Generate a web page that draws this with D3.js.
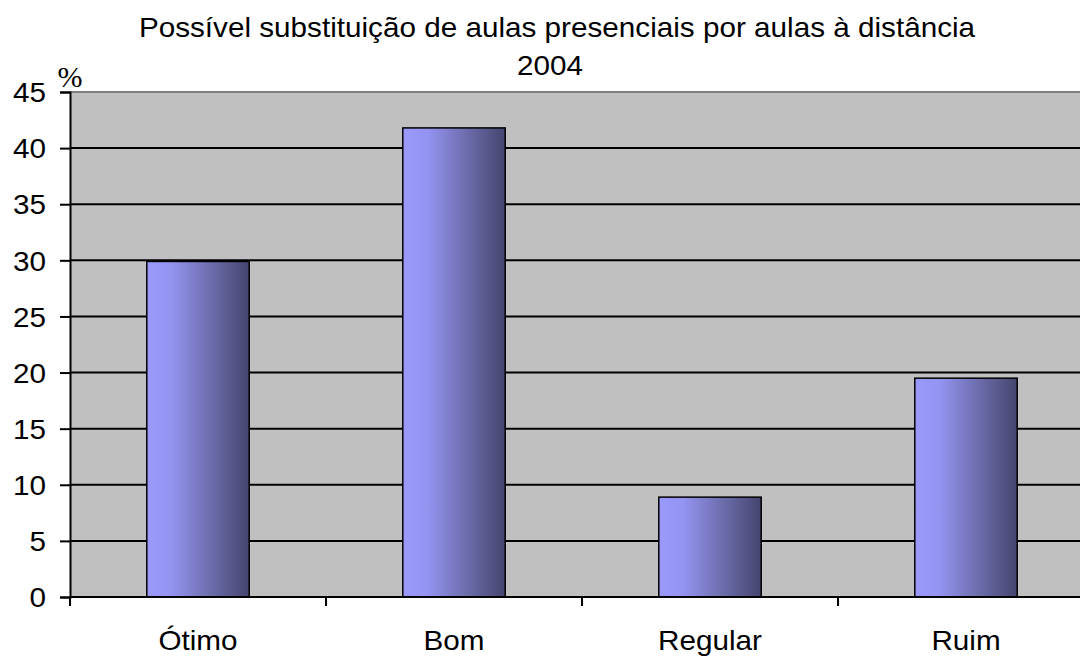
<!DOCTYPE html>
<html>
<head>
<meta charset="utf-8">
<script src="https://cdn.jsdelivr.net/npm/d3@7"></script>
<style>
  html, body { margin: 0; padding: 0; background: #fff; }
  svg { display: block; }
  text { font-family: Arial, "Liberation Sans", sans-serif; fill: #000; }
</style>
</head>
<body>
<svg id="chart" width="1080" height="656"></svg>
<script>
// Avaliação da possível substituição de aulas presenciais por aulas à distância (2004)
const categories = ["Ótimo", "Bom", "Regular", "Ruim"];
const percentages = [29.9, 41.8, 8.9, 19.5];
const yTicks = [0, 5, 10, 15, 20, 25, 30, 35, 40, 45];
const titleLines = ["Possível substituição de aulas presenciais por aulas à distância", "2004"];
const unitLabel = "%";

const FONT = "Arial, 'Liberation Sans', sans-serif";
const FS = 28;        // tamanho do texto
const STRETCH = 1.06; // leve alongamento horizontal do texto

const svg = d3.select("#chart");
const plot = { left: 70, right: 1094, top: 92, bottom: 597 };

const x = d3.scaleBand()
  .domain(categories)
  .range([plot.left, plot.right])
  .paddingInner(0.6)
  .paddingOuter(0.3);

const y = d3.scaleLinear()
  .domain([0, 45])
  .range([plot.bottom, plot.top]);

// posiciona um texto com alongamento horizontal
function placeText(sel, fx, fy) {
  sel.attr("x", 0).attr("y", 0)
    .attr("transform", (d, i) => `translate(${fx(d, i)},${fy(d, i)}) scale(${STRETCH},1)`);
}

// gradiente horizontal das barras
const defs = svg.append("defs");
const grad = defs.append("linearGradient")
  .attr("id", "barGrad")
  .attr("x1", "0%").attr("x2", "100%").attr("y1", "0%").attr("y2", "0%");
grad.append("stop").attr("offset", "0%").attr("stop-color", "#9a9aff");
grad.append("stop").attr("offset", "25%").attr("stop-color", "#9393f0");
grad.append("stop").attr("offset", "60%").attr("stop-color", "#6f6fb0");
grad.append("stop").attr("offset", "100%").attr("stop-color", "#45456f");

// fundo da área de plotagem
svg.append("rect")
  .attr("x", plot.left).attr("y", plot.top)
  .attr("width", plot.right - plot.left).attr("height", plot.bottom - plot.top)
  .attr("fill", "#c0c0c0");

// linha superior da área
svg.append("line")
  .attr("x1", plot.left).attr("x2", plot.right)
  .attr("y1", y(45)).attr("y2", y(45))
  .attr("stroke", "#808080").attr("stroke-width", 2);

// linhas de grade
svg.append("g")
  .selectAll("line")
  .data(yTicks.filter(t => t > 0 && t < 45))
  .join("line")
  .attr("x1", plot.left).attr("x2", plot.right)
  .attr("y1", d => y(d)).attr("y2", d => y(d))
  .attr("stroke", "#000").attr("stroke-width", 2);

// barras
svg.append("g")
  .selectAll("rect")
  .data(categories.map((c, i) => ({ c, v: percentages[i] })))
  .join("rect")
  .attr("x", d => x(d.c))
  .attr("y", d => y(d.v))
  .attr("width", x.bandwidth())
  .attr("height", d => y(0) - y(d.v))
  .attr("fill", "url(#barGrad)")
  .attr("stroke", "#000")
  .attr("stroke-width", 1.5);

// eixo Y
const yAxis = d3.axisLeft(y).tickValues(yTicks).tickSize(10).tickPadding(14);
const gy = svg.append("g")
  .attr("transform", `translate(${plot.left},0)`)
  .call(yAxis);
gy.select(".domain").attr("stroke", "#000").attr("stroke-width", 2);
gy.selectAll(".tick line").attr("stroke", "#000").attr("stroke-width", 2);
gy.selectAll(".tick text")
  .attr("font-size", FS)
  .attr("font-family", FONT)
  .attr("fill", "#000")
  .attr("dy", null)
  .attr("dominant-baseline", "central")
  .attr("transform", `translate(-24,0) scale(${STRETCH},1)`)
  .attr("x", 0);

// eixo X
const xBoundaries = d3.scaleLinear().domain([0, categories.length]).range([plot.left, plot.right]);
const gx = svg.append("g");
gx.append("line")
  .attr("x1", plot.left).attr("x2", plot.right)
  .attr("y1", plot.bottom).attr("y2", plot.bottom)
  .attr("stroke", "#000").attr("stroke-width", 2);
gx.selectAll("line.tick")
  .data(d3.range(categories.length + 1))
  .join("line")
  .attr("class", "tick")
  .attr("x1", d => xBoundaries(d)).attr("x2", d => xBoundaries(d))
  .attr("y1", plot.bottom).attr("y2", plot.bottom + 9)
  .attr("stroke", "#000").attr("stroke-width", 2);
gx.selectAll("text")
  .data(categories)
  .join("text")
  .attr("text-anchor", "middle")
  .attr("font-size", FS)
  .text(d => d)
  .call(placeText, d => x(d) + x.bandwidth() / 2, () => 650);

// título
const titleX = [557, 550];
svg.append("g")
  .selectAll("text")
  .data(titleLines)
  .join("text")
  .attr("text-anchor", "middle")
  .attr("font-size", FS)
  .text(d => d)
  .call(placeText, (d, i) => titleX[i], (d, i) => 37 + i * 38);

// unidade
svg.append("text")
  .attr("x", 70).attr("y", 87)
  .attr("text-anchor", "middle")
  .attr("font-size", 30)
  .style("font-family", "'Liberation Serif', 'Times New Roman', serif")
  .text(unitLabel);
</script>
</body>
</html>
